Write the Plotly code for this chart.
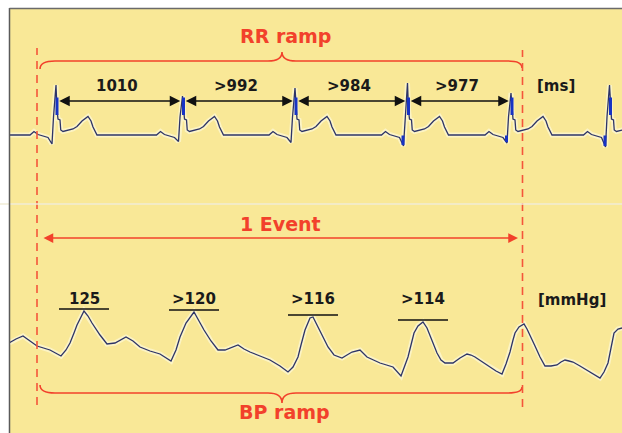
import numpy as np
import plotly.graph_objects as go

# ---------------- data ----------------
# ECG: R-peak times (ms), R amplitudes (mV), Q depths (mV)
r_times_ms = [376, 1388, 2288, 3188, 4016, 4804]
r_amp_mv = [1.00, 0.78, 0.94, 1.04, 0.84, 1.00]
q_amp_mv = [-0.18, -0.13, -0.15, -0.22, -0.16, -0.24]
q_blue = [False, False, False, True, True, True]

# one beat shape: offset from R (ms) and value (mV); 'R'/'Q' filled per beat
beat_offset_ms = [-208, -176, -144, -64, -32, -20, 0, 8, 16, 32, 38, 56, 96, 136, 168, 208, 256, 280, 296, 320, 328]
beat_value_mv = [0.0, 0.07, 0.01, -0.05, 'Q', 0.36, 'R', 0.50, 0.32, 0.30, 0.10, 0.07, 0.09, 0.12, 0.17, 0.28, 0.37, 0.28, 0.16, 0.01, 0.0]

rr_labels = ["1010", ">992", ">984", ">977"]

# Blood pressure trace: time (ms) and pressure (mmHg)
bp_t_ms = [0, 56, 112, 168, 224, 328, 416, 456, 488, 520, 544, 600, 632, 664, 728, 784, 848, 936, 992, 1048,
           1128, 1208, 1296, 1336, 1368, 1416, 1480, 1520, 1560, 1616, 1672, 1728, 1784, 1832, 1880, 1928,
           2008, 2088, 2168, 2232, 2272, 2312, 2336, 2368, 2408, 2432, 2472, 2512, 2552, 2600, 2664, 2704,
           2744, 2808, 2864, 2968, 3072, 3136, 3168, 3192, 3216, 3240, 3272, 3312, 3344, 3368, 3400, 3424,
           3456, 3488, 3552, 3608, 3664, 3696, 3728, 3784, 3848, 3896, 3944, 3976, 4008, 4032, 4048, 4080,
           4120, 4144, 4168, 4208, 4248, 4288, 4336, 4384, 4416, 4448, 4480, 4512, 4568, 4624, 4680, 4728,
           4760, 4792, 4816, 4840, 4872, 4904]
bp_mmhg = [109, 111, 112.5, 110, 107.5, 105.5, 102.5, 105.5, 109, 114, 118, 125, 122.5, 119, 113, 108.5, 109, 112, 110, 107,
           105, 103.5, 100, 105.5, 112, 119, 124.5, 120, 115.5, 110, 105.5, 105.5, 107, 108, 106, 104.5,
           102.5, 100.5, 97.5, 94.5, 97, 102, 108, 115.5, 121.5, 122, 117, 112, 107, 103, 101.5, 103,
           104.5, 105.5, 102, 99, 97, 92.5, 97.5, 102, 108, 114, 117.5, 119.5, 116.5, 113, 108, 104,
           100.5, 99, 99, 101.5, 103.5, 103, 102, 99.5, 97, 95, 93.5, 98.5, 104.5, 110.5, 114, 117,
           118.5, 116, 113, 107.5, 102, 97.5, 97.5, 98, 99.5, 100.5, 100, 99.5, 97.5, 95.5, 93.5, 91.5,
           94.5, 99, 106.5, 114, 116, 116.5]

bp_peak_t_ms = [600, 1480, 2432, 3312]
bp_labels = ["125", ">120", ">116", ">114"]

event_t_ms = [224, 4108]   # start / end of the event window

# ---------------- pixel helpers for layout elements ----------------
W, H = 622, 433
def tx(px):        # horizontal picture position -> time (ms)
    return (px - 9) * 8
def ey(py):        # vertical position in ECG panel -> mV
    return (135 - py) / 50
def by(py):        # vertical position in BP panel -> mmHg
    return 125 - (py - 311) / 2

# ---------------- build ECG ----------------
ecg_t, ecg_v = [0], [0.0]
for rt, ra, qa in zip(r_times_ms, r_amp_mv, q_amp_mv):
    for off, val in zip(beat_offset_ms, beat_value_mv):
        v = ra if val == 'R' else (qa if val == 'Q' else val)
        ecg_t.append(rt + off)
        ecg_v.append(v)

blue_x, blue_y = [], []
for rt, ra, qa, qb in zip(r_times_ms, r_amp_mv, q_amp_mv, q_blue):
    blue_x += [rt + 8, rt + 8, None]
    blue_y += [0.40, min(0.75, ra), None]
    if qb:
        blue_x += [rt - 36, rt - 36, None]
        blue_y += [-0.01, qa + 0.02, None]

RED = '#F2412B'
DARK = '#2D3468'

fig = go.Figure()
halo = dict(color='rgba(255,253,235,0.55)', width=5)
fig.add_trace(go.Scatter(x=ecg_t, y=ecg_v, mode='lines', line=halo, xaxis='x', yaxis='y', hoverinfo='skip'))
fig.add_trace(go.Scatter(x=ecg_t, y=ecg_v, mode='lines', line=dict(color=DARK, width=1.3), xaxis='x', yaxis='y'))
fig.add_trace(go.Scatter(x=blue_x, y=blue_y, mode='lines', line=dict(color='#1733C4', width=3), xaxis='x', yaxis='y'))
fig.add_trace(go.Scatter(x=bp_t_ms, y=bp_mmhg, mode='lines', line=halo, xaxis='x', yaxis='y2', hoverinfo='skip'))
fig.add_trace(go.Scatter(x=bp_t_ms, y=bp_mmhg, mode='lines', line=dict(color=DARK, width=1.3), xaxis='x', yaxis='y2'))

FONT = 'DejaVu Sans'
ann = []
shapes = []

def text(x, y, s, size, color, yref='y'):
    ann.append(dict(x=x, y=y, xref='x', yref=yref, text=s, showarrow=False,
                    font=dict(family=FONT, size=size, color=color, weight='bold'),
                    xanchor='center', yanchor='middle'))

def darrow(x0, x1, y, color, yref, size):
    ann.append(dict(x=x1, y=y, ax=x0, ay=y, xref='x', yref=yref, axref='x', ayref=yref,
                    text='', showarrow=True, arrowhead=2, startarrowhead=2, arrowside='end+start',
                    arrowsize=size, startarrowsize=size, arrowwidth=1.5, arrowcolor=color,
                    standoff=0, startstandoff=0))

# RR intervals
for i, lab in enumerate(rr_labels):
    a, b = r_times_ms[i], r_times_ms[i + 1]
    darrow(a + 14, b - 18, ey(101), '#111111', 'y', 1.4)
    text((a + b) / 2 - 20, ey(86), lab, 15, '#1a1a1a')
text(tx(556), ey(86), "[ms]", 15, '#1a1a1a')
text(tx(285), ey(36), "RR ramp", 19, RED)

# 1 Event
darrow(event_t_ms[0] + 40, event_t_ms[1] - 36, by(238), RED, 'y2', 1.3)
text(tx(280), by(224), "1 Event", 19, RED, 'y2')

# BP labels with overlines
peak_vals = np.interp(bp_peak_t_ms, bp_t_ms, bp_mmhg)
for t, v, lab in zip(bp_peak_t_ms, peak_vals, bp_labels):
    text(t, by(299), lab, 15, '#1a1a1a', 'y2')
    shapes.append(dict(type='line', xref='x', yref='y2', x0=t - 200, x1=t + 200, y0=v + 1, y1=v + 1,
                       line=dict(color='#111111', width=1.5)))
text(tx(572), by(300), "[mmHg]", 15, '#1a1a1a', 'y2')
text(tx(284), by(412), "BP ramp", 19, RED, 'y2')

# Braces
def brace(pts, fx, fy):
    out = []
    for p in pts:
        if isinstance(p, str):
            out.append(p)
        else:
            out.append(f"{fx(p[0]):.2f},{fy(p[1]):.3f}")
    return ' '.join(out)

top_brace = ['M', (40, 69), 'Q', (40, 61), (55, 61), 'L', (268, 61), 'Q', (282, 61), (282, 52),
             'Q', (282, 61), (296, 61), 'L', (508, 61), 'Q', (522, 61), (522, 68)]
bot_brace = ['M', (40, 385), 'Q', (40, 393), (55, 393), 'L', (268, 393), 'Q', (282, 393), (282, 403),
             'Q', (282, 393), (296, 393), 'L', (508, 393), 'Q', (522, 393), (522, 387)]
shapes.append(dict(type='path', xref='x', yref='y', path=brace(top_brace, tx, ey),
                   line=dict(color=RED, width=1.6)))
shapes.append(dict(type='path', xref='x', yref='y2', path=brace(bot_brace, tx, by),
                   line=dict(color=RED, width=1.6)))

# Event window dashed lines (span both panels)
for t, top, bot in zip(event_t_ms, [48, 50], [405, 407]):
    shapes.append(dict(type='line', xref='x', yref='paper', x0=t, x1=t, y0=1 - bot / H, y1=1 - top / H,
                       line=dict(color='#F4553A', width=1.6, dash='8px,6px')))

# panel frame & separator
shapes.append(dict(type='line', xref='paper', yref='paper', x0=0, x1=1, y0=1 - 204 / H, y1=1 - 204 / H,
                   line=dict(color='#F1EDD6', width=1.5)))
shapes.append(dict(type='line', xref='paper', yref='paper', x0=9.5 / W, x1=9.5 / W, y0=0, y1=1 - 8 / H,
                   line=dict(color='#5A5A5A', width=1.5)))
shapes.append(dict(type='line', xref='paper', yref='paper', x0=9.5 / W, x1=1, y0=1 - 8.5 / H, y1=1 - 8.5 / H,
                   line=dict(color='#6A6A6A', width=1.5)))

fig.update_layout(
    width=W, height=H, margin=dict(l=0, r=0, t=0, b=0),
    paper_bgcolor='white', plot_bgcolor='#F9E897', showlegend=False,
    xaxis=dict(domain=[9 / W, 1], range=[tx(9), tx(622)], visible=False, anchor='y'),
    yaxis=dict(domain=[1 - 204 / H, 1 - 8 / H], range=[ey(204), ey(8)], visible=False, anchor='x'),
    yaxis2=dict(domain=[0, 1 - 204 / H], range=[by(433), by(204)], visible=False, anchor='x'),
    annotations=ann, shapes=shapes,
)

fig.write_html("out.html")
